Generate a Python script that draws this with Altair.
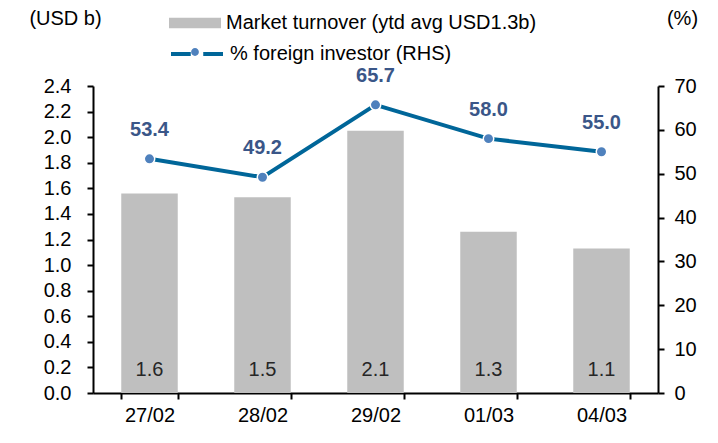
import altair as alt
import pandas as pd

dates = ["27/02", "28/02", "29/02", "01/03", "04/03"]
turnover = [1.56, 1.53, 2.05, 1.26, 1.13]
turnover_labels = ["1.6", "1.5", "2.1", "1.3", "1.1"]
foreign_pct = [53.4, 49.2, 65.7, 58.0, 55.0]
foreign_labels = ["53.4", "49.2", "65.7", "58.0", "55.0"]

left_ticks = [0.0, 0.2, 0.4, 0.6, 0.8, 1.0, 1.2, 1.4, 1.6, 1.8, 2.0, 2.2, 2.4]
right_ticks = [0, 10, 20, 30, 40, 50, 60, 70]

bar_name = "Market turnover (ytd avg USD1.3b)"
line_name = "% foreign investor (RHS)"
dot_key = "dot"

df = pd.DataFrame({
    "date": dates,
    "turnover": turnover,
    "tlabel": turnover_labels,
    "pct": foreign_pct,
    "plabel": foreign_labels,
    "bar_series": [bar_name] * len(dates),
    "line_series": [line_name] * len(dates),
    "dot_series": [dot_key] * len(dates),
})

FONT = "Liberation Sans"
FS = 20
BAR_C = "#BFBFBF"
LINE_C = "#006699"
DOT_C = "#4F81BD"
LBL_C = "#3A5688"

base = alt.Chart(df)

x = alt.X(
    "date:N", sort=dates,
    scale=alt.Scale(paddingInner=0.5, paddingOuter=0.25),
    axis=alt.Axis(title=None, labelAngle=0, tickBand="extent", domainWidth=2,
                  tickWidth=2, tickSize=6, labelPadding=6, labelFontSize=FS,
                  labelFont=FONT, domainColor="black", tickColor="black",
                  labelColor="black"),
)

y_left_axis = alt.Axis(
    values=left_ticks, format=".1f", orient="left", grid=False, labelOverlap=False,
    title="(USD b)", titleAngle=0, titleX=-28, titleY=-68, titleAlign="center",
    titleBaseline="middle", titleFont=FONT, titleFontSize=FS, titleFontWeight="normal",
    titleColor="black", labelFont=FONT, labelFontSize=FS, labelColor="black",
    domainWidth=2, domainColor="black", tickWidth=2, tickSize=6, tickColor="black",
    labelPadding=16,
)
y_right_axis = alt.Axis(
    values=right_ticks, format="d", orient="right", grid=False, labelOverlap=False,
    title="(%)", titleAngle=0, titleX=24, titleY=-68, titleAlign="center",
    titleBaseline="middle", titleFont=FONT, titleFontSize=FS, titleFontWeight="normal",
    titleColor="black", labelFont=FONT, labelFontSize=FS, labelColor="black",
    domainWidth=2, domainColor="black", tickWidth=2, tickSize=6, tickColor="black",
    labelPadding=10,
)

SYM = 52 * 52

y_left = alt.Y("turnover:Q", scale=alt.Scale(domain=[0, 2.4]), axis=y_left_axis)

bars = base.mark_bar().encode(
    x=x,
    y=y_left,
    color=alt.Color(
        "bar_series:N", scale=alt.Scale(domain=[bar_name], range=[BAR_C]),
        legend=alt.Legend(
            orient="none", legendX=76, legendY=-89, title=None, padding=0,
            symbolType="M-1,-0.2H1V0.2H-1Z", symbolSize=SYM, symbolStrokeWidth=0,
            labelFont=FONT, labelFontSize=FS, labelColor="black", labelLimit=600,
            labelOffset=5,
        ),
    ),
)

bar_text = base.mark_text(font=FONT, fontSize=FS, color="#262626", baseline="middle", dy=-23).encode(
    x=x,
    y=alt.Y(datum=0, type="quantitative", axis=y_left_axis),
    text="tlabel:N",
)

left = alt.layer(bars, bar_text)

y_right = alt.Y("pct:Q", scale=alt.Scale(domain=[0, 70]), axis=y_right_axis)

line = base.mark_line(strokeWidth=4).encode(
    x=x,
    y=y_right,
    stroke=alt.Stroke(
        "line_series:N", scale=alt.Scale(domain=[line_name], range=[LINE_C]),
        legend=alt.Legend(
            orient="none", legendX=76, legendY=-60, title=None, padding=0,
            symbolType="M-1,0H-0.24M0.24,0H1", symbolSize=SYM, symbolStrokeWidth=4,
            labelFont=FONT, labelFontSize=FS, labelColor="black", labelLimit=600,
            labelOffset=5,
        ),
    ),
)

points = base.mark_point(filled=True, size=110, stroke="white", strokeWidth=1.5, opacity=1).encode(
    x=x,
    y=y_right,
    fill=alt.Fill(
        "dot_series:N", scale=alt.Scale(domain=[dot_key], range=[DOT_C]),
        legend=alt.Legend(
            orient="none", legendX=76, legendY=-60, title=None, padding=0,
            symbolType="M0.15,0A0.15,0.15 0 1,1 -0.15,0A0.15,0.15 0 1,1 0.15,0Z",
            symbolSize=SYM, symbolStrokeWidth=0, symbolOpacity=1,
            labelFont=FONT, labelFontSize=FS, labelColor="black", labelLimit=600,
            labelOffset=5, labelExpr="''",
        ),
    ),
)

line_text = base.mark_text(font=FONT, fontSize=FS, fontWeight="bold", color=LBL_C,
                           baseline="middle", dy=-29).encode(
    x=x,
    y=y_right,
    text="plabel:N",
)

right = alt.layer(line, points, line_text)

chart = alt.layer(left, right).resolve_scale(y="independent").properties(
    width=565, height=307,
    autosize=alt.AutoSizeParams(type="none"),
    padding={"left": 85, "top": 78, "right": 52, "bottom": 42},
    background="white",
).configure_view(stroke=None)

chart.save("out.html", embed_options={"renderer": "svg", "actions": False})
